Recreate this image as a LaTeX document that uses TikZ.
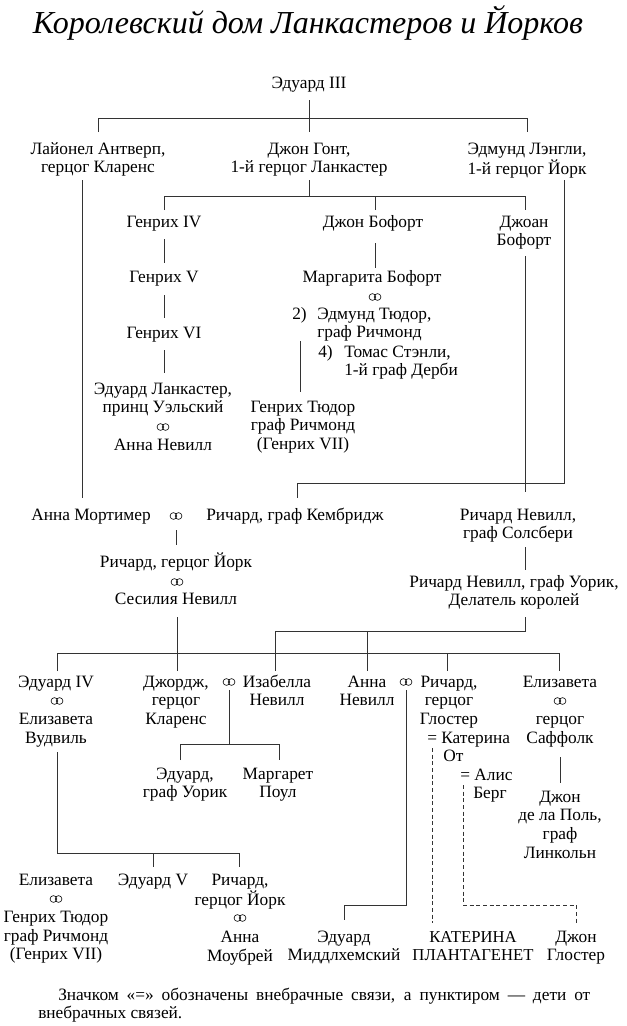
\documentclass[tikz,border=0pt]{standalone}
\usepackage{fontspec}
\setmainfont{Liberation Serif}
\newcommand\ctrlines[1]{\begin{tabular}[t]{@{}c@{}}#1\end{tabular}}
\newcommand\lftlines[1]{\begin{tabular}[t]{@{}l@{}}#1\end{tabular}}
\begin{document}
\begin{tikzpicture}[x=0.75pt,y=-0.75pt,
  pn/.style={inner sep=0pt, anchor=base, font=\fontsize{13pt}{14pt}\selectfont},
  pl/.style={pn, anchor=base west},
  conn/.style={draw=black!80, line width=0.6pt},
  ill/.style={conn, dash pattern=on 3pt off 2pt},
  rings/.style={inner sep=0pt, minimum width=10pt, minimum height=6.5pt,
    path picture={\draw[line width=0.45pt]
      ([xshift=-1.9pt]path picture bounding box.center) circle[radius=2.55pt]
      ([xshift=1.9pt]path picture bounding box.center) circle[radius=2.55pt];}}]
\useasboundingbox (0,0) rectangle (626,1026);
% title
\node[inner sep=0pt, anchor=base, font=\fontsize{24pt}{28pt}\selectfont\itshape] (title) at (308,33) {Королевский дом Ланкастеров и Йорков};
% persons
\node[pn] (e3) at (309,88) {\ctrlines{Эдуард III}};
\node[pn] (lionel) at (98,154) {\ctrlines{Лайонел Антверп,\\герцог Кларенс}};
\node[pn] (gaunt) at (309,154) {\ctrlines{Джон Гонт,\\1-й герцог Ланкастер}};
\node[pn] (edmund) at (527,154) {\ctrlines{Эдмунд Лэнгли,\\1-й герцог Йорк}};
\node[pn] (h4) at (164,227) {\ctrlines{Генрих IV}};
\node[pn] (jbeau) at (373,227) {\ctrlines{Джон Бофорт}};
\node[pn] (joan) at (524,227) {\ctrlines{Джоан\\Бофорт}};
\node[pn] (h5) at (164,282) {\ctrlines{Генрих V}};
\node[pn] (h6) at (164,338) {\ctrlines{Генрих VI}};
\node[pn] (edlanc) at (163,394) {\ctrlines{Эдуард Ланкастер,\\принц Уэльский\\~\\Анна Невилл}};
\node[rings] (r-edlanc) at (163,427) {};
\node[pn] (marg) at (372,282) {\ctrlines{Маргарита Бофорт}};
\node[rings] (r-marg) at (375,297) {};
\node[pl] (n2) at (292,319) {\lftlines{2)}};
\node[pl] (etud) at (317,319) {\lftlines{Эдмунд Тюдор,\\граф Ричмонд}};
\node[pl] (n4) at (318,357) {\lftlines{4)}};
\node[pl] (tstan) at (344,357) {\lftlines{Томас Стэнли,\\1-й граф Дерби}};
\node[pn] (htud) at (303,412) {\ctrlines{Генрих Тюдор\\граф Ричмонд\\(Генрих VII)}};
\node[pn] (annem) at (91,520) {\ctrlines{Анна Мортимер}};
\node[rings] (r-annem) at (176,516) {};
\node[pn] (rcamb) at (295,520) {\ctrlines{Ричард, граф Кембридж}};
\node[pn] (salis) at (518,520) {\ctrlines{Ричард Невилл,\\граф Солсбери}};
\node[pn] (ryork) at (176,567) {\ctrlines{Ричард, герцог Йорк\\~\\Сесилия Невилл}};
\node[rings] (r-ryork) at (177,582) {};
\node[pn] (warw) at (514,587) {\ctrlines{Ричард Невилл, граф Уорик,\\Делатель королей}};
\node[pn] (e4) at (56,687) {\ctrlines{Эдуард IV\\~\\Елизавета\\Вудвиль}};
\node[rings] (r-e4) at (57,701) {};
\node[pn] (george) at (176,687) {\ctrlines{Джордж,\\герцог\\Кларенс}};
\node[rings] (r-george) at (229,682) {};
\node[pn] (isab) at (277,687) {\ctrlines{Изабелла\\Невилл}};
\node[pn] (annen) at (367,687) {\ctrlines{Анна\\Невилл}};
\node[rings] (r-annen) at (406,682) {};
\node[pn] (rglos) at (449,687) {\ctrlines{Ричард,\\герцог\\Глостер}};
\node[pl] (kat1) at (427,743) {\lftlines{= Катерина}};
\node[pl] (kat2) at (443,761.5) {\lftlines{От}};
\node[pl] (alis1) at (460,780) {\lftlines{= Алис}};
\node[pl] (alis2) at (473,798.5) {\lftlines{Берг}};
\node[pn] (elizs) at (560,687) {\ctrlines{Елизавета\\~\\герцог\\Саффолк}};
\node[rings] (r-elizs) at (560,701) {};
\node[pn] (jlinc) at (560,802) {\ctrlines{Джон\\де ла Поль,\\граф\\Линкольн}};
\node[pn] (ewar) at (185,779) {\ctrlines{Эдуард,\\граф Уорик}};
\node[pn] (mpole) at (278,779) {\ctrlines{Маргарет\\Поул}};
\node[pn] (elizy) at (56,885) {\ctrlines{Елизавета\\~\\Генрих Тюдор\\граф Ричмонд\\(Генрих VII)}};
\node[rings] (r-elizy) at (56,899) {};
\node[pn] (e5) at (153,885) {\ctrlines{Эдуард V}};
\node[pn] (ryk2) at (240,885) {\ctrlines{Ричард,\\герцог Йорк\\~\\Анна\\Моубрей}};
\node[rings] (r-ryk2) at (240,918) {};
\node[pn] (emid) at (344,942) {\ctrlines{Эдуард\\Миддлхемский}};
\node[pn, font=\fontsize{12.5pt}{14pt}\selectfont] (kplan) at (473,942) {\ctrlines{КАТЕРИНА\\ПЛАНТАГЕНЕТ}};
\node[pn] (jglos) at (576,942) {\ctrlines{Джон\\Глостер}};
\node[inner sep=0pt, anchor=north west, text width=414pt, align=justify, font=\fontsize{13pt}{13.5pt}\selectfont] (note) at (38,988)
  {\hspace*{15pt}Значком «=» обозначены внебрачные связи, а пунктиром — дети от\linebreak внебрачных связей.};
% connectors
\coordinate (e3-d) at (309,100); \coordinate (gaunt-u) at (309,132);
\coordinate (lionel-u) at (98,132); \coordinate (edmund-u) at (527,132);
\coordinate (j1L) at (98,118); \coordinate (j1R) at (527,118);
\draw[conn] (e3-d) -- (gaunt-u);
\draw[conn] (lionel-u) -- (j1L) -- (j1R) -- (edmund-u);
\coordinate (gaunt-d) at (309,180); \coordinate (j2M) at (309,196);
\coordinate (j2L) at (164,196); \coordinate (j2R) at (525,196); \coordinate (j2B) at (375,196);
\coordinate (h4-u) at (164,210); \coordinate (jbeau-u) at (375,210); \coordinate (joan-u) at (525,210);
\draw[conn] (gaunt-d) -- (j2M);
\draw[conn] (h4-u) -- (j2L) -- (j2R) -- (joan-u);
\draw[conn] (j2B) -- (jbeau-u);
\coordinate (lionel-d) at (82,180); \coordinate (annem-u) at (82,498);
\draw[conn] (lionel-d) -- (annem-u);
\coordinate (edmund-d) at (564,180); \coordinate (j3R) at (564,483); \coordinate (j3L) at (297,483); \coordinate (rcamb-u) at (297,498);
\draw[conn] (edmund-d) -- (j3R) -- (j3L) -- (rcamb-u);
\coordinate (joan-d) at (525,256); \coordinate (salis-u) at (525,492);
\draw[conn] (joan-d) -- (salis-u);
\coordinate (h4-d) at (164,239); \coordinate (h5-u) at (164,263);
\coordinate (h5-d) at (164,295); \coordinate (h6-u) at (164,318);
\coordinate (h6-d) at (164,350); \coordinate (edlanc-u) at (164,373);
\draw[conn] (h4-d) -- (h5-u); \draw[conn] (h5-d) -- (h6-u); \draw[conn] (h6-d) -- (edlanc-u);
\coordinate (jbeau-d) at (375,243); \coordinate (marg-u) at (375,268);
\draw[conn] (jbeau-d) -- (marg-u);
\coordinate (n2-d) at (300,341); \coordinate (htud-u) at (300,392);
\draw[conn] (n2-d) -- (htud-u);
\coordinate (ra-d) at (176,530); \coordinate (ryork-u) at (176,545);
\draw[conn] (ra-d) -- (ryork-u);
\coordinate (salis-d) at (525,547); \coordinate (warw-u) at (525,570);
\draw[conn] (salis-d) -- (warw-u);
\coordinate (ryork-d) at (177,617); \coordinate (j4C) at (177,653);
\draw[conn] (ryork-d) -- (j4C);
\coordinate (warw-d) at (525,617); \coordinate (j5R) at (525,631); \coordinate (j5L) at (275,631); \coordinate (j5M) at (367,631);
\coordinate (j4I) at (275,653); \coordinate (j4A) at (367,653);
\draw[conn] (warw-d) -- (j5R) -- (j5L) -- (j4I);
\draw[conn] (j5M) -- (j4A);
\coordinate (e4-u) at (57,671); \coordinate (j4L) at (57,653); \coordinate (j4R) at (559,653); \coordinate (elizs-u) at (559,671);
\coordinate (george-u) at (177,671); \coordinate (isab-u) at (275,671); \coordinate (annen-u) at (367,671);
\coordinate (j4G) at (447,653); \coordinate (rglos-u) at (447,671);
\draw[conn] (e4-u) -- (j4L) -- (j4R) -- (elizs-u);
\draw[conn] (j4C) -- (george-u); \draw[conn] (j4I) -- (isab-u); \draw[conn] (j4A) -- (annen-u); \draw[conn] (j4G) -- (rglos-u);
\coordinate (rg-d) at (229,690); \coordinate (j6M) at (229,744);
\coordinate (j6L) at (180,744); \coordinate (j6R) at (279,744);
\coordinate (ewar-u) at (180,760); \coordinate (mpole-u) at (279,760);
\draw[conn] (rg-d) -- (j6M);
\draw[conn] (ewar-u) -- (j6L) -- (j6R) -- (mpole-u);
\coordinate (e4-d) at (57,752); \coordinate (j7L) at (57,853); \coordinate (j7R) at (239,853); \coordinate (j7M) at (153,853);
\coordinate (ryk2-u) at (239,867); \coordinate (e5-u) at (153,867);
\draw[conn] (e4-d) -- (j7L) -- (j7R) -- (ryk2-u);
\draw[conn] (j7M) -- (e5-u);
\coordinate (rn-d) at (406,690); \coordinate (j8R) at (406,905); \coordinate (j8L) at (344,905); \coordinate (emid-u) at (344,920);
\draw[conn] (rn-d) -- (j8R) -- (j8L) -- (emid-u);
\coordinate (kat-d) at (432,748); \coordinate (kplan-u) at (432,923);
\draw[ill] (kat-d) -- (kplan-u);
\coordinate (alis-d) at (463,785); \coordinate (j9L) at (463,905); \coordinate (j9R) at (576,905); \coordinate (jglos-u) at (576,923);
\draw[ill] (alis-d) -- (j9L) -- (j9R) -- (jglos-u);
\coordinate (elizs-d) at (560,757); \coordinate (jlinc-u) at (560,783);
\draw[conn] (elizs-d) -- (jlinc-u);
\end{tikzpicture}
\end{document}
